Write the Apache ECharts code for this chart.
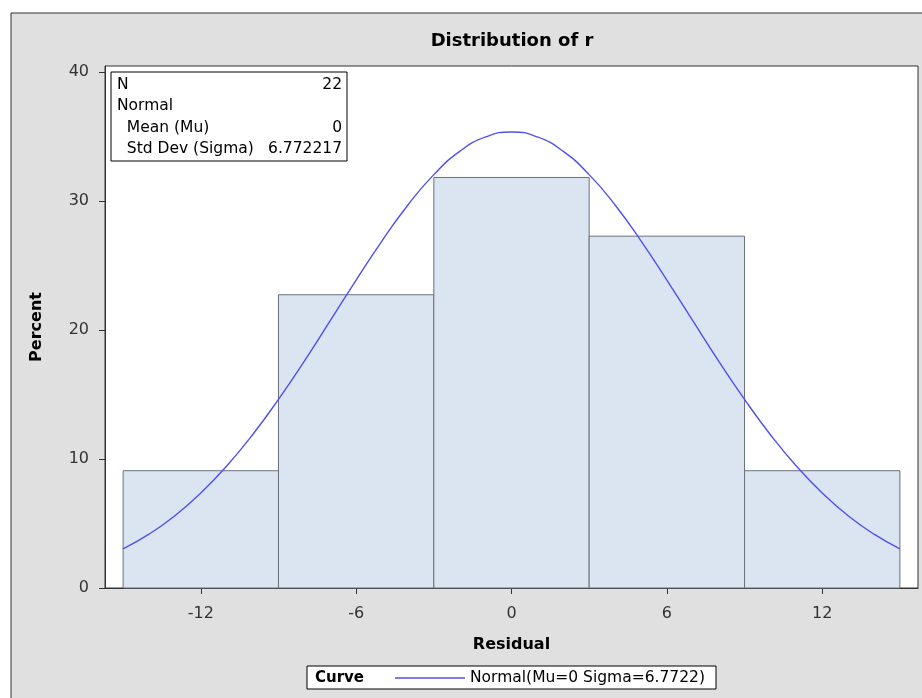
<!DOCTYPE html>
<html>
<head>
<meta charset="utf-8">
<script src="https://cdn.jsdelivr.net/npm/echarts@6/dist/echarts.min.js"></script>
<style>html,body{margin:0;padding:0;background:#fff}#c{width:922px;height:698px}</style>
</head>
<body>
<div id="c"></div>
<script>
// Histogram bins (Residual) and percent heights
const binStart = [-15, -9, -3, 3, 9];
const binEnd = [-9, -3, 3, 9, 15];
const binPercent = [9.09, 22.73, 31.82, 27.27, 9.09];
// Fitted normal curve (percent scale)
const curveX = [-15,-14,-13,-12,-11,-10,-9,-8,-7,-6,-5,-4,-3,-2,-1,0,1,2,3,4,5,6,7,8,9,10,11,12,13,14,15];
const curveY = [3.04,4.17,5.60,7.36,9.45,11.88,14.62,17.59,20.72,23.87,26.91,29.69,32.04,33.84,34.96,35.35,34.96,33.84,32.04,29.69,26.91,23.87,20.72,17.59,14.62,11.88,9.45,7.36,5.60,4.17,3.04];
// Tick labels
const xTicks = [-12, -6, 0, 6, 12];
const yTicks = [0, 10, 20, 30, 40];
// Inset stats
const statLabels = ['N', 'Normal', '  Mean (Mu)', '  Std Dev (Sigma)'];
const statValues = ['22', '', '0', '6.772217'];

const FONT = 'DejaVu Sans';
const chart = echarts.init(document.getElementById('c'), null, {renderer: 'canvas'});

const barData = binStart.map((s, i) => [s, binEnd[i], binPercent[i]]);
const curveData = curveX.map((x, i) => [x, curveY[i]]);

const statElems = [{
  type: 'rect', shape: {x: 111, y: 72, width: 236, height: 89},
  style: {fill: '#fff', stroke: '#000', lineWidth: 1}, z: 50
}];
statLabels.forEach((t, i) => {
  statElems.push({type: 'text', x: 117, y: 85 + i * 21.3, z: 51,
    style: {text: t, fill: '#000', font: '15.5px "' + FONT + '"', verticalAlign: 'middle', align: 'left'}});
  if (statValues[i]) statElems.push({type: 'text', x: 342, y: 85 + i * 21.3, z: 51,
    style: {text: statValues[i], fill: '#000', font: '15.5px "' + FONT + '"', verticalAlign: 'middle', align: 'right'}});
});

chart.setOption({
  backgroundColor: '#fff',
  animation: false,
  textStyle: {fontFamily: FONT},
  grid: {left: 105, top: 66, width: 813, height: 522, show: true, backgroundColor: '#fff', borderColor: '#333', borderWidth: 1, containLabel: false},
  xAxis: {
    type: 'value', min: -15.7, max: 15.7,
    name: 'Residual', nameLocation: 'middle', nameGap: 49,
    nameTextStyle: {fontWeight: 'bold', fontSize: 16, color: '#000', fontFamily: FONT},
    axisLine: {show: true, onZero: false, lineStyle: {color: '#333'}},
    axisTick: {show: true, length: 6, inside: false, customValues: xTicks, lineStyle: {color: '#333'}},
    axisLabel: {customValues: xTicks, color: '#333', fontSize: 16, margin: 18, fontFamily: FONT},
    splitLine: {show: false}
  },
  yAxis: {
    type: 'value', min: 0, max: 40.46,
    name: 'Percent', nameLocation: 'middle', nameGap: 60, nameRotate: 90,
    nameTextStyle: {fontWeight: 'bold', fontSize: 16, color: '#000', fontFamily: FONT},
    axisLine: {show: true, onZero: false, lineStyle: {color: '#333'}},
    axisTick: {show: true, length: 6, inside: false, customValues: yTicks, lineStyle: {color: '#333'}},
    axisLabel: {customValues: yTicks, color: '#333', fontSize: 16, margin: 16, fontFamily: FONT},
    splitLine: {show: false}
  },
  legend: {
    left: 395, top: 670, data: ['Normal(Mu=0 Sigma=6.7722)'],
    icon: 'rect', itemWidth: 70, itemHeight: 1.5,
    textStyle: {color: '#000', fontSize: 15.5, lineHeight: 16, fontFamily: FONT},
    padding: 0
  },
  graphic: [
    {type: 'rect', shape: {x: 11, y: 13, width: 930, height: 700}, style: {fill: '#e0e0e0', stroke: '#333', lineWidth: 1}, z: -100, silent: true},
    {type: 'text', x: 512, y: 41, style: {text: 'Distribution of r', font: 'bold 18px "' + FONT + '"', fill: '#000', align: 'center', verticalAlign: 'middle'}},
    {type: 'rect', shape: {x: 307, y: 666, width: 409, height: 23}, style: {fill: '#fff', stroke: '#000', lineWidth: 1}, z: -50},
    {type: 'text', x: 315, y: 678, style: {text: 'Curve', font: 'bold 15px "' + FONT + '"', fill: '#000', align: 'left', verticalAlign: 'middle'}},
    {type: 'group', children: statElems}
  ],
  series: [
    {
      type: 'custom', name: 'Histogram', data: barData,
      encode: {x: [0, 1], y: 2},
      renderItem: function (params, api) {
        const p0 = api.coord([api.value(0), api.value(2)]);
        const p1 = api.coord([api.value(1), 0]);
        return {type: 'rect', shape: {x: p0[0], y: p0[1], width: p1[0] - p0[0], height: p1[1] - p0[1]},
          style: {fill: '#dbe4f1', stroke: '#6a717b', lineWidth: 1}};
      },
      z: 2
    },
    {
      type: 'line', name: 'Normal(Mu=0 Sigma=6.7722)', data: curveData,
      smooth: true, showSymbol: false, symbol: 'none',
      lineStyle: {color: '#5050ee', width: 1.4}, itemStyle: {color: '#5050ee'}, z: 3
    }
  ]
});
</script>
</body>
</html>
